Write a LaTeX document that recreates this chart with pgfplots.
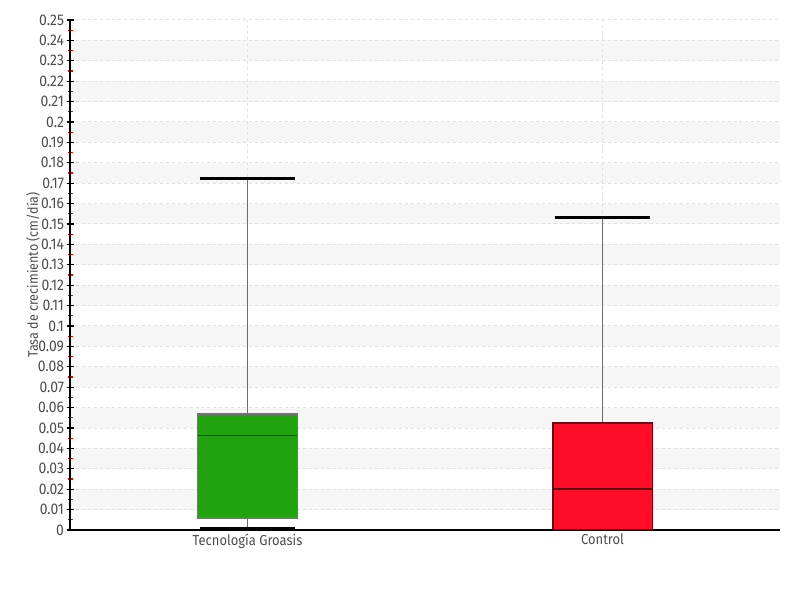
\documentclass[border=0pt]{standalone}
\usepackage{fontspec}
\setmainfont{Fira Sans}[FakeStretch=0.9]
\usepackage{pgfplots}
\pgfplotsset{compat=1.18}
\definecolor{txt}{HTML}{4D4D4D}
\definecolor{gridc}{HTML}{E0E0E0}
\definecolor{band}{HTML}{F6F6F6}
\definecolor{grbox}{HTML}{21A30F}
\definecolor{rdbox}{HTML}{FF0C28}
\definecolor{whisk}{HTML}{6B6B6B}
\begin{document}
\begin{tikzpicture}
\path (0,0) rectangle (800bp,600bp);
\begin{axis}[
  set layers,
  scale only axis,
  width=710bp, height=510bp,
  at={(70bp,70bp)}, anchor=south west,
  xmin=0.5, xmax=2.5, ymin=0, ymax=0.25,
  axis x line*=bottom, axis y line*=left,
  axis line style={black, line width=1.3pt},
  xtick={1,2},
  xticklabels={Tecnología Groasis, Control},
  x tick style={draw=none},
  ytick={0,0.01,0.02,0.03,0.04,0.05,0.06,0.07,0.08,0.09,0.1,0.11,0.12,0.13,0.14,0.15,0.16,0.17,0.18,0.19,0.2,0.21,0.22,0.23,0.24,0.25},
  minor y tick num=1,
  tick align=center,
  major tick length=7bp,
  minor tick length=5bp,
  y tick style={black, line width=1.2pt},
  minor y tick style={red, line width=1.2pt},
  xmajorgrids, ymajorgrids,
  major grid style={gridc, dashed, line width=1pt},
  /pgf/number format/assume math mode=true,
  y tick label style={/pgf/number format/fixed, /pgf/number format/precision=2, font=\fontsize{15.5}{17}\selectfont, text=txt, xshift=1bp},
  x tick label style={font=\fontsize{14.5}{16}\selectfont, text=txt, yshift=3bp},
  ylabel={Tasa de crecimiento (cm/día)},
  ylabel style={at={(axis description cs:-0.052,0.5)}, anchor=center, font=\fontsize{14}{16}\selectfont, text=txt},
]
% alternating background bands
\addplot[fill=band, draw=none, forget plot, on layer=axis background] coordinates {(0.5,0.01)(2.5,0.01)(2.5,0.02)(0.5,0.02)} -- cycle;
\addplot[fill=band, draw=none, forget plot, on layer=axis background] coordinates {(0.5,0.03)(2.5,0.03)(2.5,0.04)(0.5,0.04)} -- cycle;
\addplot[fill=band, draw=none, forget plot, on layer=axis background] coordinates {(0.5,0.05)(2.5,0.05)(2.5,0.06)(0.5,0.06)} -- cycle;
\addplot[fill=band, draw=none, forget plot, on layer=axis background] coordinates {(0.5,0.07)(2.5,0.07)(2.5,0.08)(0.5,0.08)} -- cycle;
\addplot[fill=band, draw=none, forget plot, on layer=axis background] coordinates {(0.5,0.09)(2.5,0.09)(2.5,0.10)(0.5,0.10)} -- cycle;
\addplot[fill=band, draw=none, forget plot, on layer=axis background] coordinates {(0.5,0.11)(2.5,0.11)(2.5,0.12)(0.5,0.12)} -- cycle;
\addplot[fill=band, draw=none, forget plot, on layer=axis background] coordinates {(0.5,0.13)(2.5,0.13)(2.5,0.14)(0.5,0.14)} -- cycle;
\addplot[fill=band, draw=none, forget plot, on layer=axis background] coordinates {(0.5,0.15)(2.5,0.15)(2.5,0.16)(0.5,0.16)} -- cycle;
\addplot[fill=band, draw=none, forget plot, on layer=axis background] coordinates {(0.5,0.17)(2.5,0.17)(2.5,0.18)(0.5,0.18)} -- cycle;
\addplot[fill=band, draw=none, forget plot, on layer=axis background] coordinates {(0.5,0.19)(2.5,0.19)(2.5,0.20)(0.5,0.20)} -- cycle;
\addplot[fill=band, draw=none, forget plot, on layer=axis background] coordinates {(0.5,0.21)(2.5,0.21)(2.5,0.22)(0.5,0.22)} -- cycle;
\addplot[fill=band, draw=none, forget plot, on layer=axis background] coordinates {(0.5,0.23)(2.5,0.23)(2.5,0.24)(0.5,0.24)} -- cycle;
% whisker lines
\addplot[whisk, line width=1.8pt, forget plot] coordinates {(1,0.0569)(1,0.1725)};
\addplot[whisk, line width=1.8pt, forget plot] coordinates {(1,0)(1,0.0059)};
\addplot[whisk, line width=1.8pt, forget plot] coordinates {(2,0.0525)(2,0.1534)};
% whisker caps
\addplot[black, line width=3pt, forget plot] coordinates {(0.865,0.1725)(1.135,0.1725)};
\addplot[black, line width=3pt, forget plot] coordinates {(0.865,0.0006)(1.135,0.0006)};
\addplot[black, line width=3pt, forget plot] coordinates {(1.865,0.1534)(2.135,0.1534)};
% boxes
\addplot[fill=grbox, draw=black!55, line width=1.4pt] coordinates {(0.86,0.0059)(1.14,0.0059)(1.14,0.0569)(0.86,0.0569)} -- cycle;
\addplot[fill=rdbox, draw=rdbox!45!black, line width=1.4pt] coordinates {(1.86,0)(2.14,0)(2.14,0.0525)(1.86,0.0525)} -- cycle;
% medians
\addplot[grbox!40!black, line width=1.5pt, forget plot] coordinates {(0.86,0.0462)(1.14,0.0462)};
\addplot[rdbox!35!black, line width=1.5pt, forget plot] coordinates {(1.86,0.0201)(2.14,0.0201)};
\end{axis}
\end{tikzpicture}
\end{document}
